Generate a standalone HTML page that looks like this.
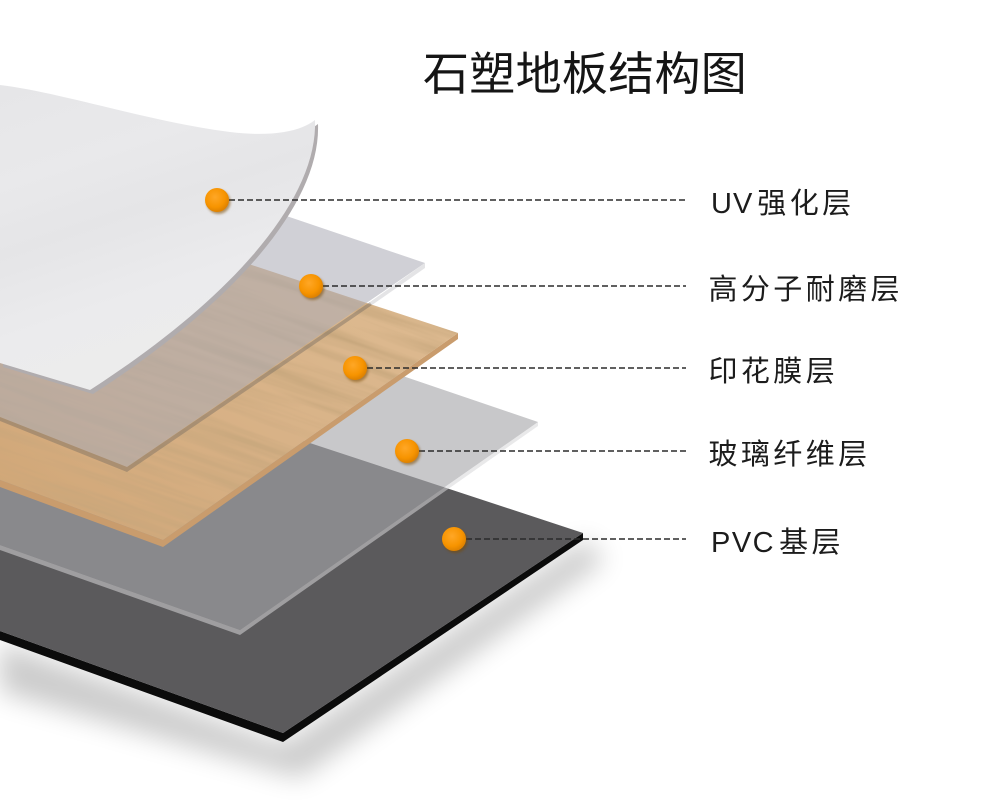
<!DOCTYPE html>
<html>
<head>
<meta charset="utf-8">
<style>
  html,body{margin:0;padding:0;background:#fff;}
  svg{display:block;}
  text{font-family:"Liberation Sans","Noto Sans CJK SC",sans-serif;}
</style>
</head>
<body>
<svg width="1000" height="807" viewBox="0 0 1000 807" xmlns="http://www.w3.org/2000/svg">
  <defs>
    <filter id="blurS" x="-20%" y="-20%" width="140%" height="140%">
      <feGaussianBlur stdDeviation="13"/>
    </filter>
    <filter id="dotsh" x="-50%" y="-50%" width="200%" height="200%">
      <feGaussianBlur stdDeviation="1.3"/>
    </filter>
    <filter id="grain" x="0" y="0" width="1" height="1" filterUnits="objectBoundingBox">
      <feTurbulence type="fractalNoise" baseFrequency="0.005 0.1" numOctaves="3" seed="7"/>
      <feColorMatrix type="matrix" values="0 0 0 0 0.56  0 0 0 0 0.38  0 0 0 0 0.20  1.7 0 0 0 -0.6"/>
    </filter>
    <linearGradient id="woodG" x1="1" y1="0" x2="0" y2="1">
      <stop offset="0" stop-color="#e0bf96"/>
      <stop offset="0.55" stop-color="#d8b287"/>
      <stop offset="1" stop-color="#d0a575"/>
    </linearGradient>
    <linearGradient id="uvG" x1="0" y1="0" x2="0.35" y2="1">
      <stop offset="0" stop-color="#e6e6e8"/>
      <stop offset="0.3" stop-color="#e9e9eb"/>
      <stop offset="0.5" stop-color="#e5e5e7"/>
      <stop offset="0.75" stop-color="#ebebed"/>
      <stop offset="1" stop-color="#ececec"/>
    </linearGradient>
    <radialGradient id="dotG" cx="0.42" cy="0.38" r="0.6">
      <stop offset="0" stop-color="#ffa726"/>
      <stop offset="0.7" stop-color="#f79400"/>
      <stop offset="1" stop-color="#e08300"/>
    </radialGradient>
    <clipPath id="woodClip">
      <polygon points="0,182 458,333 163,540 0,480"/>
    </clipPath>
  </defs>

  <rect x="0" y="0" width="1000" height="807" fill="#ffffff"/>

  <!-- PVC shadow -->
  <polygon points="0,642 283,744 585,540 605,560 300,778 0,692" fill="#000" opacity="0.2" filter="url(#blurS)"/>

  <!-- PVC base -->
  <polygon points="583,533 583,540 283,742 0,640 0,631 283,733" fill="#0b0b0b"/>
  <polygon points="0,341 583,533 283,733 0,631" fill="#5b5a5c"/>

  <!-- Glass fiber layer -->
  <polygon points="0,239 538,422 240,630 0,545" fill="rgb(167,167,170)" fill-opacity="0.62"/>
  <polygon points="538,422 240,630 0,545 0,550 240,635 538,426" fill="rgb(215,215,217)" fill-opacity="0.55"/>

  <!-- Wood / printed film layer -->
  <polygon points="458,333 458,339 163,547 0,487 0,480 163,540" fill="#c99c6d"/>
  <polygon points="0,182 458,333 163,540 0,480" fill="url(#woodG)"/>
  <g clip-path="url(#woodClip)">
    <rect x="-250" y="50" width="950" height="650" transform="rotate(19 230 360)" filter="url(#grain)" fill="#000"/>
  </g>

  <!-- Wear layer -->
  <polygon points="0,119 425,263 127,467 0,417" fill="rgb(172,172,182)" fill-opacity="0.56"/>
  <polygon points="370,302 127,467 0,417 0,421 127,472 372,305" fill="rgb(120,108,98)" fill-opacity="0.45"/>
  <polygon points="425,263 425,268 372,305 370,302" fill="#e4e4e6"/>

  <!-- UV layer (curved) -->
  <path d="M0,85 C60,92 150,122 230,132 C270,137 300,132 315,120 C318,200 230,300 90,390 L0,363 Z" fill="#b0acae" transform="translate(3,4)"/>
  <path d="M0,85 C60,92 150,122 230,132 C270,137 300,132 315,120 C318,200 230,300 90,390 L0,363 Z" fill="url(#uvG)"/>

  <!-- Dashed connectors -->
  <g stroke="#2b2b2b" stroke-width="1.6" stroke-dasharray="6 3" fill="none">
    <line x1="229" y1="200" x2="686" y2="200"/>
    <line x1="323" y1="286" x2="686" y2="286"/>
    <line x1="367" y1="368" x2="686" y2="368"/>
    <line x1="419" y1="451" x2="686" y2="451"/>
    <line x1="466" y1="539" x2="686" y2="539"/>
  </g>

  <!-- Dots -->
  <g>
    <circle cx="218.5" cy="202" r="12" fill="#7a4a00" opacity="0.55" filter="url(#dotsh)"/>
    <circle cx="217" cy="200" r="12" fill="url(#dotG)"/>
    <circle cx="312.5" cy="288" r="12" fill="#7a4a00" opacity="0.55" filter="url(#dotsh)"/>
    <circle cx="311" cy="286" r="12" fill="url(#dotG)"/>
    <circle cx="356.5" cy="370" r="12" fill="#7a4a00" opacity="0.55" filter="url(#dotsh)"/>
    <circle cx="355" cy="368" r="12" fill="url(#dotG)"/>
    <circle cx="408.5" cy="453" r="12" fill="#7a4a00" opacity="0.55" filter="url(#dotsh)"/>
    <circle cx="407" cy="451" r="12" fill="url(#dotG)"/>
    <circle cx="455.5" cy="541" r="12" fill="#7a4a00" opacity="0.55" filter="url(#dotsh)"/>
    <circle cx="454" cy="539" r="12" fill="url(#dotG)"/>
  </g>

  <!-- Title -->
  <text x="423" y="90" font-size="46" fill="#151515" style="letter-spacing:0.3px">石塑地板结构图</text>

  <!-- Labels -->
  <g font-size="29" fill="#1c1c1c" style="letter-spacing:3.4px">
    <text x="711" y="213"><tspan style="letter-spacing:1px">UV</tspan><tspan dx="4">强化层</tspan></text>
    <text x="708.5" y="299">高分子耐磨层</text>
    <text x="708.5" y="381">印花膜层</text>
    <text x="708.5" y="464">玻璃纤维层</text>
    <text x="711" y="552"><tspan style="letter-spacing:1.5px">PVC</tspan><tspan dx="4">基层</tspan></text>
  </g>
</svg>
</body>
</html>
